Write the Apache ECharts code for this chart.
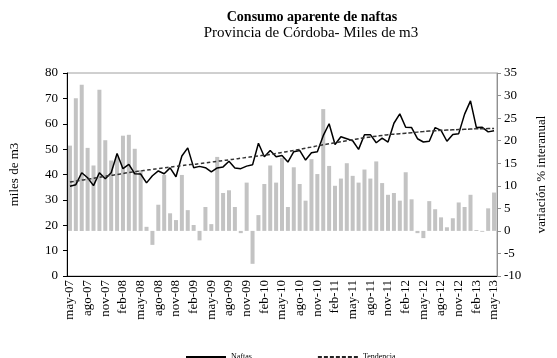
<!DOCTYPE html>
<html>
<head>
<meta charset="utf-8">
<script src="https://cdn.jsdelivr.net/npm/echarts@6/dist/echarts.min.js"></script>
<style>
  html, body { margin: 0; padding: 0; background: #fff; }
  #chart { width: 557px; height: 358px; }
</style>
</head>
<body>
<div id="chart"></div>
<script>
// Meses (may-07 a may-13)
const meses = [
  'may-07','jun-07','jul-07','ago-07','sep-07','oct-07','nov-07','dic-07','ene-08','feb-08','mar-08','abr-08',
  'may-08','jun-08','jul-08','ago-08','sep-08','oct-08','nov-08','dic-08','ene-09','feb-09','mar-09','abr-09',
  'may-09','jun-09','jul-09','ago-09','sep-09','oct-09','nov-09','dic-09','ene-10','feb-10','mar-10','abr-10',
  'may-10','jun-10','jul-10','ago-10','sep-10','oct-10','nov-10','dic-10','ene-11','feb-11','mar-11','abr-11',
  'may-11','jun-11','jul-11','ago-11','sep-11','oct-11','nov-11','dic-11','ene-12','feb-12','mar-12','abr-12',
  'may-12','jun-12','jul-12','ago-12','sep-12','oct-12','nov-12','dic-12','ene-13','feb-13','mar-13','abr-13',
  'may-13'
];

// Consumo mensual de naftas (miles de m3)
const naftas = [
  35.4, 36.0, 40.7, 38.7, 35.6, 40.7, 38.3, 40.7, 48.3, 42.3,
  44.0, 40.3, 40.2, 36.7, 39.5, 41.4, 40.3, 42.6, 39.1, 47.3,
  50.5, 42.7, 43.2, 42.7, 41.0, 42.6, 43.0, 45.2, 42.6, 42.3,
  43.3, 43.8, 52.3, 47.0, 49.5, 47.0, 47.5, 44.9, 49.0, 49.5,
  45.7, 48.6, 49.0, 55.3, 60.0, 51.8, 54.9, 54.1, 53.3, 49.9,
  55.7, 55.7, 52.5, 54.3, 52.8, 60.2, 63.9, 58.6, 58.5, 54.1,
  52.8, 53.1, 58.5, 57.4, 53.1, 55.8, 56.1, 63.8, 69.0, 58.5,
  58.6, 56.8, 57.2
];

// Tendencia (miles de m3)
const tendencia = [
  37.0, 37.4, 37.8, 38.1, 38.5, 38.9, 39.3, 39.7, 40.0, 40.4,
  40.8, 41.1, 41.4, 41.7, 42.0, 42.3, 42.6, 42.9, 43.2, 43.5,
  43.8, 44.0, 44.3, 44.6, 44.9, 45.2, 45.5, 45.8, 46.1, 46.4,
  46.7, 47.0, 47.3, 47.6, 47.9, 48.3, 48.7, 49.1, 49.5, 49.9,
  50.4, 50.8, 51.3, 51.7, 52.1, 52.5, 52.9, 53.3, 53.7, 54.1,
  54.5, 54.8, 55.1, 55.4, 55.7, 55.9, 56.1, 56.3, 56.5, 56.7,
  56.9, 57.1, 57.2, 57.4, 57.5, 57.6, 57.7, 57.8, 57.9, 58.0,
  58.0, 58.1, 58.1
];

// Variación % interanual
const variacion = [
  18.9, 29.4, 32.4, 18.4, 14.5, 31.3, 20.1, 15.6, 16.5, 21.1,
  21.3, 18.2, 13.5, 0.9, -3.1, 5.8, 12.4, 3.9, 2.4, 12.4,
  4.6, 1.3, -2.1, 5.3, 1.5, 16.4, 8.4, 9.0, 5.3, -0.5,
  10.7, -7.3, 3.5, 10.4, 14.5, 10.7, 16.2, 5.3, 14.1, 10.4,
  6.7, 15.9, 12.6, 27.0, 14.4, 10.0, 11.6, 15.0, 12.2, 10.7,
  13.6, 11.6, 15.4, 10.6, 8.0, 8.4, 6.7, 13.0, 7.0, -0.5,
  -1.6, 6.6, 4.8, 3.0, 0.8, 2.8, 6.3, 5.3, 8.0, 0.2,
  -0.2, 5.0, 8.5
];

const serif = '"Liberation Serif", "DejaVu Serif", serif';

// Legend keys: a solid stroke and a dashed stroke
const iconSolid = 'path://M0,0H40V2H0Z';
let dashPath = 'path://';
for (let i = 0; i < 7; i++) {
  const x0 = i * 6;
  dashPath += 'M' + x0 + ',0H' + (x0 + 4) + 'V2H' + x0 + 'Z';
}

const chart = echarts.init(document.getElementById('chart'), null, { renderer: 'canvas' });

chart.setOption({
  animation: false,
  backgroundColor: '#ffffff',
  textStyle: { fontFamily: serif },
  graphic: [
    { type: 'text', x: 312, y: 10, style: { text: 'Consumo aparente de naftas', font: 'bold 14px ' + serif, fill: '#000', textAlign: 'center' } },
    { type: 'text', x: 311, y: 26, style: { text: 'Provincia de Córdoba- Miles de m3', font: '15px ' + serif, fill: '#000', textAlign: 'center' } }
  ],
  legend: {
    data: [
      { name: 'Naftas', icon: iconSolid, itemStyle: { color: '#000', opacity: 1 } },
      { name: 'Tendencia', icon: dashPath, itemStyle: { color: '#222', opacity: 1 } }
    ],
    left: 181,
    top: 348,
    itemWidth: 40,
    itemHeight: 2,
    itemGap: 66,
    textStyle: { fontFamily: serif, fontSize: 8, color: '#000' }
  },
  grid: {
    left: 67, right: 60, top: 73, bottom: 82,
    show: true, borderColor: '#a0a0a0', borderWidth: 1
  },
  xAxis: {
    type: 'category',
    data: meses,
    boundaryGap: true,
    axisLine: { lineStyle: { color: '#000', width: 1 } },
    axisTick: { interval: 0, length: 3, lineStyle: { color: '#000' } },
    axisLabel: { interval: 2, rotate: 90, fontFamily: serif, fontSize: 13, color: '#000', margin: 4 }
  },
  yAxis: [
    {
      type: 'value', min: 0, max: 80, interval: 10,
      name: 'miles de m3', nameLocation: 'middle', nameGap: 46, nameRotate: 90,
      nameTextStyle: { fontFamily: serif, fontSize: 13, color: '#000' },
      axisLine: { show: true, lineStyle: { color: '#000' } },
      axisTick: { show: true, length: 4, lineStyle: { color: '#000' } },
      axisLabel: { fontFamily: serif, fontSize: 13, color: '#000', margin: 9 },
      splitLine: { show: false }
    },
    {
      type: 'value', min: -10, max: 35, interval: 5,
      name: 'variación % interanual', nameLocation: 'middle', nameGap: 38, nameRotate: 90,
      nameTextStyle: { fontFamily: serif, fontSize: 13, color: '#000' },
      axisLine: { show: true, lineStyle: { color: '#909090' } },
      axisTick: { show: true, length: 4, lineStyle: { color: '#909090' } },
      axisLabel: { fontFamily: serif, fontSize: 13, color: '#000', margin: 7 },
      splitLine: { show: false }
    }
  ],
  series: [
    {
      name: 'variación % interanual', type: 'bar', yAxisIndex: 1,
      data: variacion, barWidth: 4,
      itemStyle: { color: '#c3c3c3' }
    },
    {
      name: 'Naftas', type: 'line', yAxisIndex: 0,
      data: naftas, symbol: 'none',
      lineStyle: { color: '#000', width: 1.5 },
      itemStyle: { color: '#000' }
    },
    {
      name: 'Tendencia', type: 'line', yAxisIndex: 0,
      data: tendencia, symbol: 'none', smooth: true,
      lineStyle: { color: '#333', width: 1.5, type: [4, 2] },
      itemStyle: { color: '#333' }
    }
  ]
});
</script>
</body>
</html>
